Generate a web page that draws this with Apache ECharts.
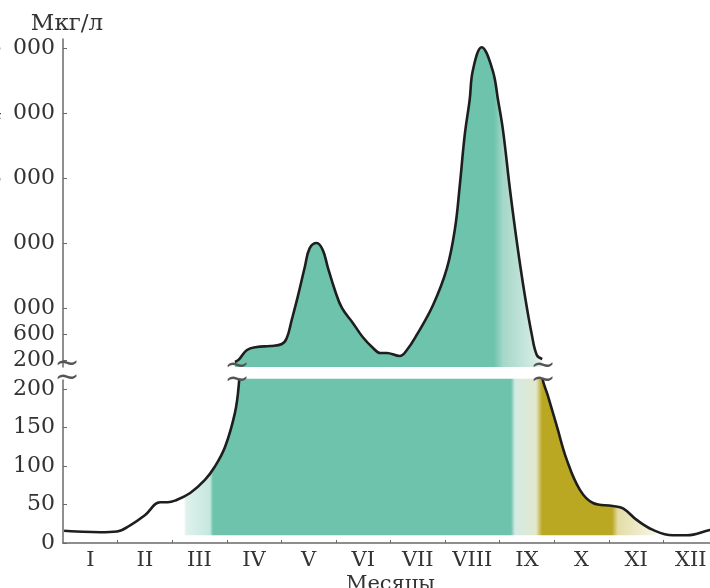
<!DOCTYPE html>
<html>
<head>
<meta charset="utf-8">
<script src="https://cdn.jsdelivr.net/npm/echarts@6/dist/echarts.min.js"></script>
<style>
  html, body { margin: 0; padding: 0; background: #fff; }
  #chart { width: 710px; height: 588px; }
</style>
</head>
<body>
<div id="chart"></div>
<script>
// Месяцы (подписи между делениями)
const months = ['I', 'II', 'III', 'IV', 'V', 'VI', 'VII', 'VIII', 'IX', 'X', 'XI', 'XII'];
const monthLabelPos = [0.5, 1.5, 2.5, 3.5, 4.5, 5.5, 6.5, 7.5, 8.5, 9.5, 10.5, 11.5];
const monthTickPos = [1, 2, 3, 4, 5, 6, 7, 8, 9, 10, 11];

// деления шкалы: верхняя часть (после разрыва) и нижняя
const upperTicks = [200, 600, 1000, 2000, 3000, 4000, 5000];
const lowerTicks = [0, 50, 100, 150, 200];

// кривая концентрации, мкг/л (положение по оси месяцев — значение)
const monthPos = [
  0.02, 0.25, 0.68, 0.99, 1.23, 1.50, 1.78, 1.92, 2.05, 2.33, 2.60, 2.78, 2.97, 3.15, 3.22,
  3.37, 3.55, 3.80, 4.01, 4.10, 4.19, 4.30, 4.43, 4.52, 4.65, 4.76, 4.85, 4.98, 5.11, 5.31,
  5.49, 5.68, 5.81, 5.93, 6.17, 6.30, 6.48, 6.78, 7.03, 7.18, 7.27, 7.36, 7.45, 7.51, 7.67,
  7.87, 7.97, 8.06, 8.19, 8.32, 8.46, 8.59, 8.68, 8.78, 8.88, 9.05, 9.23, 9.47, 9.71, 10.07,
  10.26, 10.51, 10.81, 11.17, 11.43, 11.85, 12.0
];
const concentration = [
  16, 15, 14, 15, 23, 36, 53, 53, 55, 65, 82, 99, 125, 169, 205,
  354, 400, 415, 446, 538, 815, 1170, 1630, 1920, 2000, 1890, 1630, 1277, 1000, 770,
  554, 385, 308, 308, 262, 354, 585, 1046, 1600, 2215, 2892, 3662, 4200, 4660, 5010,
  4660, 4200, 3740, 2815, 1985, 1200, 585, 277, 215, 192, 151, 108, 69, 52, 48,
  45, 30, 17, 10, 10, 17, 19
];

const FONT = "'DejaVu Serif', 'Liberation Serif', serif";
const TEAL = 'rgb(110,195,172)';
const OLIVE = 'rgb(186,168,34)';
const AXIS = '#6a6a6a';

const curve = monthPos.map((m, i) => [m, concentration[i]]);
// верхняя часть: только участок выше разрыва (индексы 13..53)
const curveUpper = curve.slice(13, 54);

function thousands(v) {
  return v >= 1000 ? Math.floor(v / 1000) + '\u2002' + String(v % 1000).padStart(3, '0') : String(v);
}

// горизонтальные заливки (глобальные координаты холста)
function grad(stops) {
  return new echarts.graphic.LinearGradient(0, 0, 710, 0,
    stops.map(s => ({ offset: s[0] / 710, color: s[1] })), true);
}
const upperFill = grad([
  [0, TEAL], [494, TEAL], [503, 'rgb(165,215,200)'],
  [536, 'rgb(214,236,229)'], [545, 'rgba(214,236,229,0)'], [710, 'rgba(214,236,229,0)']
]);
const lowerFill = grad([
  [0, 'rgba(110,195,172,0)'], [184, 'rgba(110,195,172,0)'], [186, 'rgba(110,195,172,0.22)'],
  [210, 'rgba(110,195,172,0.40)'], [213, TEAL], [511, TEAL], [515, 'rgb(212,234,228)'],
  [536, 'rgb(226,232,206)'], [542, OLIVE], [612, OLIVE], [618, 'rgba(186,168,34,0.4)'],
  [654, 'rgba(186,168,34,0.12)'], [657, 'rgba(186,168,34,0)'], [710, 'rgba(186,168,34,0)']
]);

const lineStyle = { color: '#1e1e1e', width: 2.6 };
const tilde = (x, y) => ({
  type: 'text', x: x, y: y, z: 100,
  style: { text: '~', font: '30px ' + FONT, fill: '#555', align: 'center', verticalAlign: 'middle' }
});

const chart = echarts.init(document.getElementById('chart'));
chart.setOption({
  animation: false,
  backgroundColor: '#fff',
  textStyle: { fontFamily: FONT },
  grid: [
    { left: 63, right: -8, top: 39, height: 328, outerBoundsMode: 'none', containLabel: false },
    { left: 63, right: -8, top: 380, height: 163, outerBoundsMode: 'none', containLabel: false }
  ],
  xAxis: [
    { gridIndex: 0, type: 'value', min: 0, max: 12, show: false },
    {
      gridIndex: 1, type: 'value', min: 0, max: 12,
      name: 'Месяцы', nameLocation: 'middle', nameGap: 31,
      nameTextStyle: { fontFamily: FONT, fontSize: 21, color: '#333' },
      axisLine: { lineStyle: { color: AXIS, width: 1.5 } },
      axisTick: { inside: true, length: 3, lineStyle: { color: AXIS }, customValues: monthTickPos },
      axisLabel: {
        customValues: monthLabelPos, margin: 7,
        fontFamily: FONT, fontSize: 21, color: '#333',
        formatter: v => months[Math.floor(v)]
      },
      splitLine: { show: false }
    }
  ],
  yAxis: [
    {
      gridIndex: 0, type: 'value', min: 92, max: 5138,
      name: 'Мкг/л', nameLocation: 'end', nameGap: 3,
      nameTextStyle: { fontFamily: FONT, fontSize: 23, color: '#333', padding: [0, 0, 0, 8] },
      axisLine: { show: true, lineStyle: { color: AXIS, width: 1.5 } },
      axisTick: { show: true, inside: true, length: 4, lineStyle: { color: AXIS }, customValues: upperTicks },
      axisLabel: { customValues: upperTicks, margin: 8, fontFamily: FONT, fontSize: 22, color: '#333', formatter: thousands },
      splitLine: { show: false }
    },
    {
      gridIndex: 1, type: 'value', min: 0, max: 211.7,
      axisLine: { show: true, lineStyle: { color: AXIS, width: 1.5 } },
      axisTick: { show: true, inside: true, length: 4, lineStyle: { color: AXIS }, customValues: lowerTicks },
      axisLabel: { customValues: lowerTicks, margin: 8, fontFamily: FONT, fontSize: 22, color: '#333' },
      splitLine: { show: false }
    }
  ],
  series: [
    {
      type: 'line', xAxisIndex: 0, yAxisIndex: 0, data: curveUpper,
      smooth: 0.4, showSymbol: false, silent: true,
      lineStyle: lineStyle, areaStyle: { color: upperFill, opacity: 1, origin: 'start' }
    },
    {
      type: 'line', xAxisIndex: 1, yAxisIndex: 1, data: curve,
      smooth: 0.4, showSymbol: false, silent: true,
      lineStyle: lineStyle, areaStyle: { color: lowerFill, opacity: 1, origin: 10 }
    }
  ],
  graphic: [
    tilde(67, 364), tilde(67, 378),
    tilde(237, 366), tilde(237, 380),
    tilde(543, 366), tilde(543, 380)
  ]
});
</script>
</body>
</html>
